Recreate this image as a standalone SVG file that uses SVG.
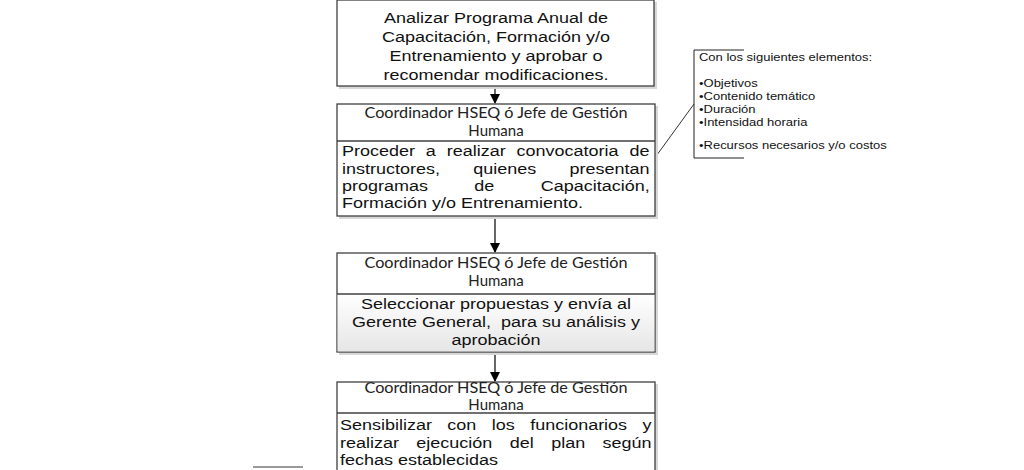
<svg xmlns="http://www.w3.org/2000/svg" width="1024" height="470" viewBox="0 0 1024 470">
<style>
.box{fill:#fff;stroke:#404040;stroke-width:1.3}
.shadow{fill:#d8d8d8}
.t{font-family:"Liberation Sans",Arial,sans-serif;font-size:15.5px;fill:#111}
.m{text-anchor:middle}
.h{font-family:Lato,"Liberation Sans",sans-serif;font-size:15px;fill:#222;text-anchor:middle}
.c{font-family:"Liberation Sans",Arial,sans-serif;font-size:11.3px;fill:#111}
.conn{stroke:#000;stroke-width:1.2;fill:none}
</style>
<defs>
<marker id="ah" markerWidth="10" markerHeight="10" refX="9" refY="5" orient="auto" markerUnits="userSpaceOnUse">
<path d="M0,0 L10,5 L0,10 Z" fill="#000"/>
</marker>
<linearGradient id="g" x1="0" y1="0" x2="0" y2="1">
<stop offset="0" stop-color="#ffffff"/>
<stop offset="1" stop-color="#e6e6e6"/>
</linearGradient>
</defs>
<rect width="1024" height="470" fill="#fff"/>

<g id="connectors">
<line class="conn" x1="495" y1="86" x2="495" y2="103" marker-end="url(#ah)"/>
<line class="conn" x1="495" y1="216" x2="495" y2="252" marker-end="url(#ah)"/>
<line class="conn" x1="495" y1="352" x2="495" y2="381" marker-end="url(#ah)"/>
<line stroke="#333" stroke-width="1" x1="654" y1="159" x2="694" y2="104"/>
</g>

<g id="node1">
<rect class="shadow" x="339" y="2" width="318" height="87"/>
<rect class="box" x="337" y="0" width="317" height="86"/>
<g transform="translate(496,0) scale(1.1613,1)">
<text class="t m" x="0" y="23">Analizar Programa Anual de</text>
<text class="t m" x="0" y="42">Capacitación, Formación y/o</text>
<text class="t m" x="0" y="61">Entrenamiento y aprobar o</text>
<text class="t m" x="0" y="80">recomendar modificaciones.</text>
</g>
</g>

<g id="node2">
<rect class="shadow" x="339" y="106" width="319" height="113"/>
<rect class="box" x="337" y="104" width="318" height="112"/>
<line stroke="#404040" stroke-width="1.3" x1="337" y1="141" x2="655" y2="141"/>
<text class="h" x="496" y="118" textLength="263" lengthAdjust="spacingAndGlyphs">Coordinador HSEQ ó Jefe de Gestión</text>
<text class="h" x="496" y="136">Humana</text>
<g transform="translate(342,0) scale(1.1613,1)">
<text class="t" x="0" y="156" word-spacing="5.08">Proceder a realizar convocatoria de</text>
<text class="t" x="0" y="174" word-spacing="24.37">instructores, quienes presentan</text>
<text class="t" x="0" y="191" word-spacing="35.65">programas de Capacitación,</text>
<text class="t" x="0" y="208">Formación y/o Entrenamiento.</text>
</g>
</g>

<g id="node3">
<rect class="shadow" x="339" y="255" width="319" height="100"/>
<rect class="box" x="337" y="253" width="318" height="99"/>
<rect x="337.6" y="294" width="316.8" height="57.4" fill="url(#g)"/>
<line stroke="#404040" stroke-width="1.3" x1="337" y1="294" x2="655" y2="294"/>
<text class="h" x="496" y="268" textLength="263" lengthAdjust="spacingAndGlyphs">Coordinador HSEQ ó Jefe de Gestión</text>
<text class="h" x="496" y="286">Humana</text>
<g transform="translate(496,0) scale(1.1613,1)">
<text class="t m" x="0" y="309">Seleccionar propuestas y envía al</text>
<text class="t m" x="0" y="327" xml:space="preserve">Gerente General,  para su análisis y</text>
<text class="t m" x="0" y="345">aprobación</text>
</g>
</g>

<g id="node4">
<rect class="shadow" x="339" y="384" width="319" height="100"/>
<rect class="box" x="337" y="382" width="318" height="100"/>
<line stroke="#404040" stroke-width="1.3" x1="337" y1="413" x2="655" y2="413"/>
<text class="h" x="496" y="393" textLength="263" lengthAdjust="spacingAndGlyphs">Coordinador HSEQ ó Jefe de Gestión</text>
<text class="h" x="496" y="410">Humana</text>
<g transform="translate(340,0) scale(1.1613,1)">
<text class="t" x="0" y="430" word-spacing="8.96">Sensibilizar con los funcionarios y</text>
<text class="t" x="0" y="448" word-spacing="10.68">realizar ejecución del plan según</text>
<text class="t" x="0" y="465">fechas establecidas</text>
</g>
</g>

<g id="callout">
<path d="M744,50 H694 V158 H744" fill="none" stroke="#222" stroke-width="1"/>
<g transform="translate(699,0) scale(1.15,1)">
<text class="c" x="0" y="61">Con los siguientes elementos:</text>
<text class="c" x="0" y="87">•Objetivos</text>
<text class="c" x="0" y="100">•Contenido temático</text>
<text class="c" x="0" y="113">•Duración</text>
<text class="c" x="0" y="126">•Intensidad horaria</text>
<text class="c" x="0" y="149">•Recursos necesarios y/o costos</text>
</g>
</g>

<g id="partial">
<line stroke="#999" stroke-width="2" x1="253" y1="467" x2="303" y2="467"/>
</g>
</svg>
